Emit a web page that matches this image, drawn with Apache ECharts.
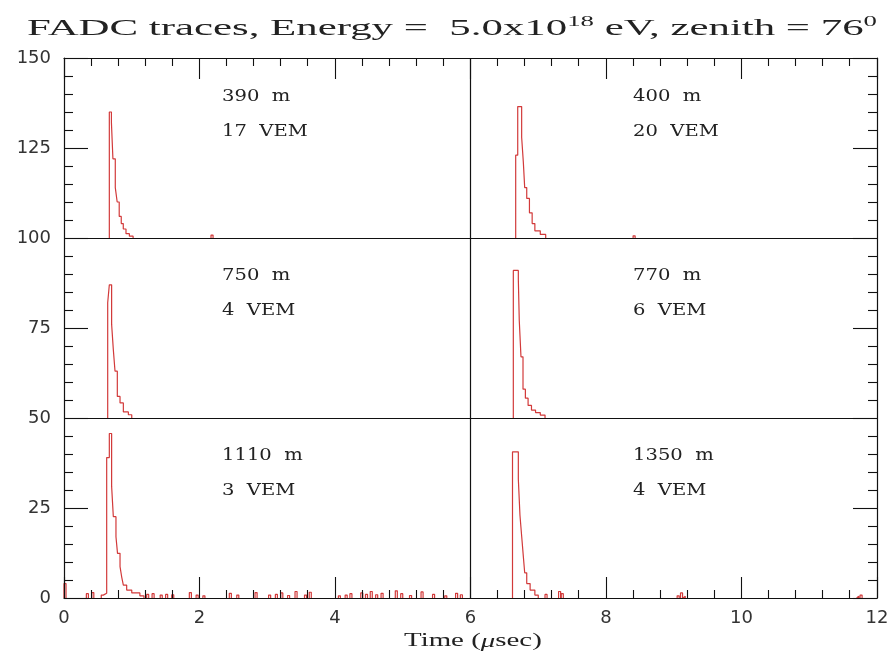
<!DOCTYPE html>
<html>
<head>
<meta charset="utf-8">
<script src="https://cdn.jsdelivr.net/npm/echarts@6/dist/echarts.min.js"></script>
<style>html,body{margin:0;padding:0;background:#fff}#c{width:894px;height:651px}</style>
</head>
<body>
<div id="c"></div>
<script>
// ---- axis ticks ----
const xTicks = [0, 2, 4, 6, 8, 10, 12];
const yTicks = [0, 25, 50, 75, 100, 125, 150];
const minorSplit = 5;
const panelDividersX = [6];
const panelDividersY = [50, 100];

// ---- panel labels ----
const distances = ['390  m', '400  m', '750  m', '770  m', '1110  m', '1350  m'];
const signals = ['17  VEM', '20  VEM', '4  VEM', '6  VEM', '3  VEM', '4  VEM'];
const baselines = [100, 100, 50, 50, 0, 0];

// ---- traces (bin start time in µs, signal above panel baseline) ----
const tlTime = [0.0, 0.669, 0.700, 0.722, 0.757, 0.785, 0.815, 0.845, 0.875, 0.915, 0.965, 1.02, 2.17, 2.20, 6.0];
const tlVal  = [0, 35, 32, 22, 14, 10, 6, 4, 2.5, 1.2, 0.5, 0, 0.8, 0, 0];

const trTime = [6.0, 6.667, 6.697, 6.755, 6.78, 6.80, 6.83, 6.87, 6.91, 6.95, 7.03, 7.11, 8.40, 8.43, 12.0];
const trVal  = [0, 23, 36.5, 28, 21, 14, 11, 7, 4, 2, 1, 0, 0.6, 0, 0];

const mlTime = [0.0, 0.645, 0.669, 0.703, 0.728, 0.753, 0.787, 0.827, 0.876, 0.95, 1.0, 6.0];
const mlVal  = [0, 32, 37, 26, 19, 13, 6, 4.2, 1.7, 0.9, 0, 0];

const mrTime = [6.0, 6.632, 6.706, 6.72, 6.745, 6.775, 6.81, 6.85, 6.90, 6.96, 7.03, 7.10, 12.0];
const mrVal  = [0, 41, 38.5, 27, 17, 8, 5.5, 3.5, 2.2, 1.5, 0.8, 0, 0];

const blTime = [0.0, 0.03, 0.55, 0.58, 0.63, 0.669, 0.703, 0.728, 0.767, 0.79, 0.827, 0.851, 0.876, 0.925, 1.0, 1.12, 1.18];
const blVal  = [4, 0, 0.8, 1.3, 39, 45.7, 31, 22.6, 17, 12.4, 8.7, 5.9, 3.6, 2.2, 1.4, 0.6, 0];
const blNoiseTime = [0.33, 0.41, 1.22, 1.30, 1.42, 1.50, 1.59, 1.85, 1.95, 2.05, 2.44, 2.55, 2.82, 3.02, 3.12, 3.20, 3.30, 3.41, 3.55, 3.62, 4.05, 4.15, 4.22, 4.38, 4.45, 4.52, 4.60, 4.68, 4.89, 4.97, 5.10, 5.27, 5.44, 5.62, 5.78, 5.85];
const blNoiseVal  = [1.2, 1.5, 1.0, 1.2, 0.8, 1.0, 0.9, 1.5, 0.8, 0.6, 1.3, 0.8, 1.5, 0.8, 1.0, 1.4, 0.7, 1.8, 0.8, 1.6, 0.6, 0.8, 1.2, 1.4, 1.0, 1.8, 0.9, 1.3, 2.0, 1.2, 0.7, 1.7, 1.0, 0.6, 1.3, 0.9];

const brTime = [6.0, 6.62, 6.706, 6.73, 6.756, 6.78, 6.80, 6.83, 6.88, 6.95, 7.0];
const brVal  = [0, 40.6, 33, 23, 17, 11.5, 7, 4, 2.2, 0.8, 0];
const brNoiseTime = [7.10, 7.30, 7.34, 9.05, 9.10, 9.14, 11.70, 11.75];
const brNoiseVal  = [1.0, 1.8, 1.2, 0.6, 1.4, 0.5, 0.5, 0.8];

const spikeWidth = 0.03;

// Turn (bin start, value) pairs into histogram outlines; each run of non-zero bins
// becomes its own polyline (baseline itself is drawn by the panel divider / axis).
function buildTrace(times, vals, base, nT, nV, endT) {
  let bins = times.map((t, i) => [t, vals[i]]);
  if (nT) {
    nT.forEach((t, i) => { bins.push([t, nV[i]]); bins.push([t + spikeWidth, 0]); });
    bins.push([endT, 0]);
    bins.sort((a, b) => a[0] - b[0]);
  }
  const pts = [];
  let inRun = false;
  for (let i = 0; i < bins.length; i++) {
    const t0 = bins[i][0];
    const t1 = i + 1 < bins.length ? bins[i + 1][0] : t0;
    const v = bins[i][1];
    if (v > 0) {
      if (!inRun) { pts.push([t0, base]); inRun = true; }
      pts.push([t0, base + v]);
      pts.push([t1, base + v]);
    } else if (inRun) {
      pts.push([t0, base]);
      pts.push([t0, '-']);
      inRun = false;
    }
  }
  return pts;
}

const traces = [
  buildTrace(tlTime, tlVal, baselines[0]),
  buildTrace(trTime, trVal, baselines[1]),
  buildTrace(mlTime, mlVal, baselines[2]),
  buildTrace(mrTime, mrVal, baselines[3]),
  buildTrace(blTime, blVal, baselines[4], blNoiseTime, blNoiseVal, 6.0),
  buildTrace(brTime, brVal, baselines[5], brNoiseTime, brNoiseVal, 12.0)
];

const traceColor = '#d23a3a';
const axisColor = '#111';

// tick marks for all four frame sides: [side, value, length]
// side 0 = bottom, 1 = top, 2 = left, 3 = right
function tickItems(ticks, sides, majorLen, minorLen) {
  const items = [];
  for (let i = 0; i < ticks.length; i++) {
    sides.forEach(s => items.push([s, ticks[i], majorLen]));
    if (i + 1 < ticks.length) {
      const step = (ticks[i + 1] - ticks[i]) / minorSplit;
      for (let k = 1; k < minorSplit; k++) sides.forEach(s => items.push([s, ticks[i] + k * step, minorLen]));
    }
  }
  return items;
}
const tickData = tickItems(xTicks, [0, 1], 21, 8).concat(tickItems(yTicks, [2, 3], 24, 9));

const xMin = xTicks[0], xMax = xTicks[xTicks.length - 1];
const yMin = yTicks[0], yMax = yTicks[yTicks.length - 1];

const chart = echarts.init(document.getElementById('c'));

const series = traces.map(d => ({
  type: 'line', data: d, symbol: 'none', silent: true, connectNulls: false,
  lineStyle: { color: traceColor, width: 1.2 }, z: 3
}));

series.push({
  type: 'line', data: [], silent: true,
  markLine: {
    symbol: 'none', silent: true, label: { show: false },
    lineStyle: { color: axisColor, width: 1.2, type: 'solid' },
    data: panelDividersX.map(x => ({ xAxis: x })).concat(panelDividersY.map(y => ({ yAxis: y })))
  },
  z: 4
});

function crisp(v) { return Math.round(v - 0.5) + 0.5; }

series.push({
  type: 'custom', silent: true, clip: false, z: 5,
  data: tickData,
  renderItem: function (params, api) {
    const side = api.value(0), v = api.value(1), len = api.value(2);
    let x1, y1, x2, y2, p;
    if (side === 0) { p = api.coord([v, yMin]); x1 = x2 = crisp(p[0]); y1 = p[1]; y2 = p[1] - len; }
    else if (side === 1) { p = api.coord([v, yMax]); x1 = x2 = crisp(p[0]); y1 = p[1]; y2 = p[1] + len; }
    else if (side === 2) { p = api.coord([xMin, v]); y1 = y2 = crisp(p[1]); x1 = p[0]; x2 = p[0] + len; }
    else { p = api.coord([xMax, v]); y1 = y2 = crisp(p[1]); x1 = p[0]; x2 = p[0] - len; }
    return { type: 'line', shape: { x1: x1, y1: y1, x2: x2, y2: y2 },
      style: { stroke: axisColor, lineWidth: 1.1 } };
  }
});

// panel annotation anchors (pixel layout)
const colLeft = [222, 633];
const rowTop = [88, 267, 447];
const graphics = [];
distances.forEach((d, i) => {
  const c = i % 2, r = Math.floor(i / 2);
  graphics.push({ type: 'text', x: colLeft[c], y: rowTop[r], scaleX: 1.15,
    style: { text: d, font: '17px "DejaVu Serif"', fill: '#222' } });
  graphics.push({ type: 'text', x: colLeft[c], y: rowTop[r] + 35, scaleX: 1.15,
    style: { text: signals[i], font: '17px "DejaVu Serif"', fill: '#222' } });
});

// title (horizontally stretched like the reference)
graphics.push({
  type: 'text', x: 27, y: 15, scaleX: 1.785,
  style: {
    text: '{a|FADC traces, Energy =  5.0x10}{s|18}{a| eV, zenith = 76}{s|0}',
    rich: {
      a: { fontFamily: 'Liberation Serif', fontSize: 24, fill: '#222' },
      s: { fontFamily: 'Liberation Serif', fontSize: 15, fill: '#222', padding: [0, 0, 12, 0] }
    }
  }
});
// x axis title
graphics.push({
  type: 'text', x: 404, y: 632, scaleX: 1.52,
  style: {
    text: '{a|Time (}{b|μ}{a|sec)}',
    rich: {
      a: { fontFamily: 'Liberation Serif', fontSize: 19, fill: '#222' },
      b: { fontFamily: 'Liberation Serif', fontSize: 19, fontStyle: 'italic', fill: '#222' }
    }
  }
});

const labelStyleX = { color: '#333', fontFamily: 'DejaVu Sans', fontSize: 18, margin: 11 };
const labelStyleY = { color: '#333', fontFamily: 'DejaVu Sans', fontSize: 18, margin: 13 };

function frameAxis(position, ticks, label, secondary) {
  return {
    type: 'value', min: ticks[0], max: ticks[ticks.length - 1], interval: ticks[1] - ticks[0],
    position: position,
    axisLine: { show: true, onZero: secondary ? false : true, lineStyle: { color: axisColor, width: 1.2 } },
    axisTick: { show: false }, minorTick: { show: false },
    splitLine: { show: false },
    axisLabel: label ? label : { show: false }
  };
}

chart.setOption({
  animation: false,
  backgroundColor: '#fff',
  grid: { left: 64, right: 17, top: 58, bottom: 53 },
  xAxis: [frameAxis('bottom', xTicks, labelStyleX, false), frameAxis('top', xTicks, null, true)],
  yAxis: [frameAxis('left', yTicks, labelStyleY, false), frameAxis('right', yTicks, null, true)],
  graphic: graphics,
  series: series
});
</script>
</body>
</html>
